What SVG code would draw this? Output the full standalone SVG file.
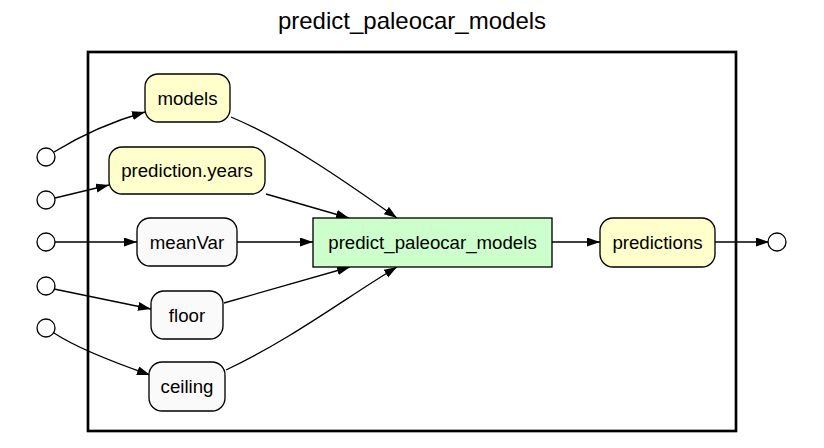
<svg xmlns="http://www.w3.org/2000/svg" width="824" height="448" viewBox="0 0 824 448">
<style>
text{font-family:"Liberation Sans",Arial,sans-serif;font-size:18.67px;fill:#000;text-anchor:middle}
.title{font-size:24px}
.yel{fill:#FFFFCC;stroke:#000;stroke-width:1.33}
.wht{fill:#FAFAFA;stroke:#000;stroke-width:1.33}
.grn{fill:#CCFFCC;stroke:#000;stroke-width:1.33}
.io{fill:#fff;stroke:#000;stroke-width:1.33}
.e{fill:none;stroke:#000;stroke-width:1.33;marker-end:url(#ah)}
</style>
<defs>
<marker id="ah" markerUnits="userSpaceOnUse" markerWidth="14" markerHeight="10" refX="13" refY="4.5" orient="auto">
<path d="M0,0 L13,4.5 L0,9 z" fill="#000"/>
</marker>
</defs>
<rect width="824" height="448" fill="#fff"/>
<text class="title" x="412" y="29">predict_paleocar_models</text>
<rect x="88" y="52" width="648" height="379" fill="none" stroke="#000" stroke-width="2.67"/>
<g id="edges">
<path class="e" d="M54,152 C80,136 110,122 145,112"/>
<path class="e" d="M55,198 L109,185"/>
<path class="e" d="M55,242 L137,242"/>
<path class="e" d="M54,289 L151,309"/>
<path class="e" d="M54,333 C75,347 110,361 150,375"/>
<path class="e" d="M231,117 C290,142 350,185 397,218"/>
<path class="e" d="M266,194 L349,218"/>
<path class="e" d="M237,242 L313,242"/>
<path class="e" d="M224,303 L350,267"/>
<path class="e" d="M226,370 C290,340 350,295 397,267"/>
<path class="e" d="M552,242 L600,242"/>
<path class="e" d="M715,242 L769,242"/>
</g>
<g id="in1"><circle class="io" cx="46" cy="157" r="9"/></g>
<g id="in2"><circle class="io" cx="46" cy="200" r="9"/></g>
<g id="in3"><circle class="io" cx="46" cy="242" r="9"/></g>
<g id="in4"><circle class="io" cx="46" cy="286" r="9"/></g>
<g id="in5"><circle class="io" cx="46" cy="328" r="9"/></g>
<g id="out1"><circle class="io" cx="777" cy="242" r="9"/></g>
<g id="models"><rect class="yel" x="145" y="74" width="85" height="48" rx="13"/><text x="187.5" y="104.5">models</text></g>
<g id="prediction_years"><rect class="yel" x="109" y="147" width="156" height="47" rx="13"/><text x="187" y="177">prediction.years</text></g>
<g id="meanVar"><rect class="wht" x="137" y="218" width="100" height="48" rx="13"/><text x="187" y="248.5">meanVar</text></g>
<g id="floor"><rect class="wht" x="151" y="291" width="72" height="48" rx="13"/><text x="187" y="321.5">floor</text></g>
<g id="ceiling"><rect class="wht" x="149" y="362" width="76" height="49" rx="13"/><text x="187" y="393">ceiling</text></g>
<g id="predict_paleocar_models"><rect class="grn" x="313" y="218" width="239" height="49"/><text x="432.5" y="249">predict_paleocar_models</text></g>
<g id="predictions"><rect class="yel" x="600" y="218" width="115" height="49" rx="13"/><text x="657.5" y="249">predictions</text></g>
</svg>
